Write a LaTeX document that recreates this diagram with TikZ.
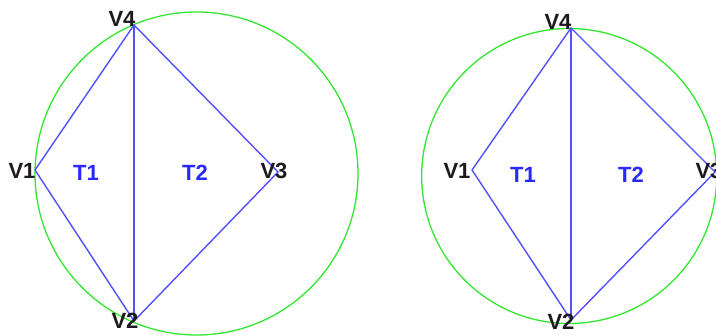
\documentclass[tikz,border=0pt]{standalone}
\usepackage{fontspec}
\setmainfont{Liberation Sans}
\begin{document}
\begin{tikzpicture}[x=1pt,y=-1pt,
  edge/.style={draw={rgb,255:red,80;green,80;blue,255}, line width=1.4pt},
  circ/.style={draw={rgb,255:red,50;green,230;blue,50}, line width=1.3pt},
  vlabel/.style={inner sep=0pt, font=\fontsize{22}{24}\selectfont\bfseries, text={rgb,255:red,30;green,25;blue,30}},
  tlabel/.style={inner sep=0pt, font=\fontsize{22}{24}\selectfont\bfseries, text={rgb,255:red,40;green,40;blue,255}}]
\useasboundingbox (0,0) rectangle (716,336);
\clip (0,0) rectangle (716,336);
% left diagram
\coordinate (a1) at (35,170);
\coordinate (a2) at (134,321);
\coordinate (a3) at (278,172);
\coordinate (a4) at (134,25);
\draw[circ] (196.5,173.5) circle[radius=161.5];
\draw[edge] (a1) -- (a4) -- (a3) -- (a2) -- (a1);
\draw[edge] (a4) -- (a2);
\node[vlabel] (la1) at (22,171) {V1};
\node[vlabel] (la2) at (125,321) {V2};
\node[vlabel] (la3) at (274,171) {V3};
\node[vlabel] (la4) at (122,19) {V4};
\node[tlabel] (lt1) at (86,173) {T1};
\node[tlabel] (lt2) at (195,173) {T2};
% right diagram
\coordinate (b1) at (472,170);
\coordinate (b2) at (571,320);
\coordinate (b3) at (715,172);
\coordinate (b4) at (571,28);
\draw[circ] (569.2,176) circle[radius=147.5];
\draw[edge] (b1) -- (b4) -- (b3) -- (b2) -- (b1);
\draw[edge] (b4) -- (b2);
\node[vlabel] (lb1) at (457,171) {V1};
\node[vlabel] (lb2) at (561,322) {V2};
\node[vlabel] (lb3) at (709,171) {V3};
\node[vlabel] (lb4) at (558,22) {V4};
\node[tlabel] (lt3) at (523,175) {T1};
\node[tlabel] (lt4) at (631,175) {T2};
\end{tikzpicture}
\end{document}
